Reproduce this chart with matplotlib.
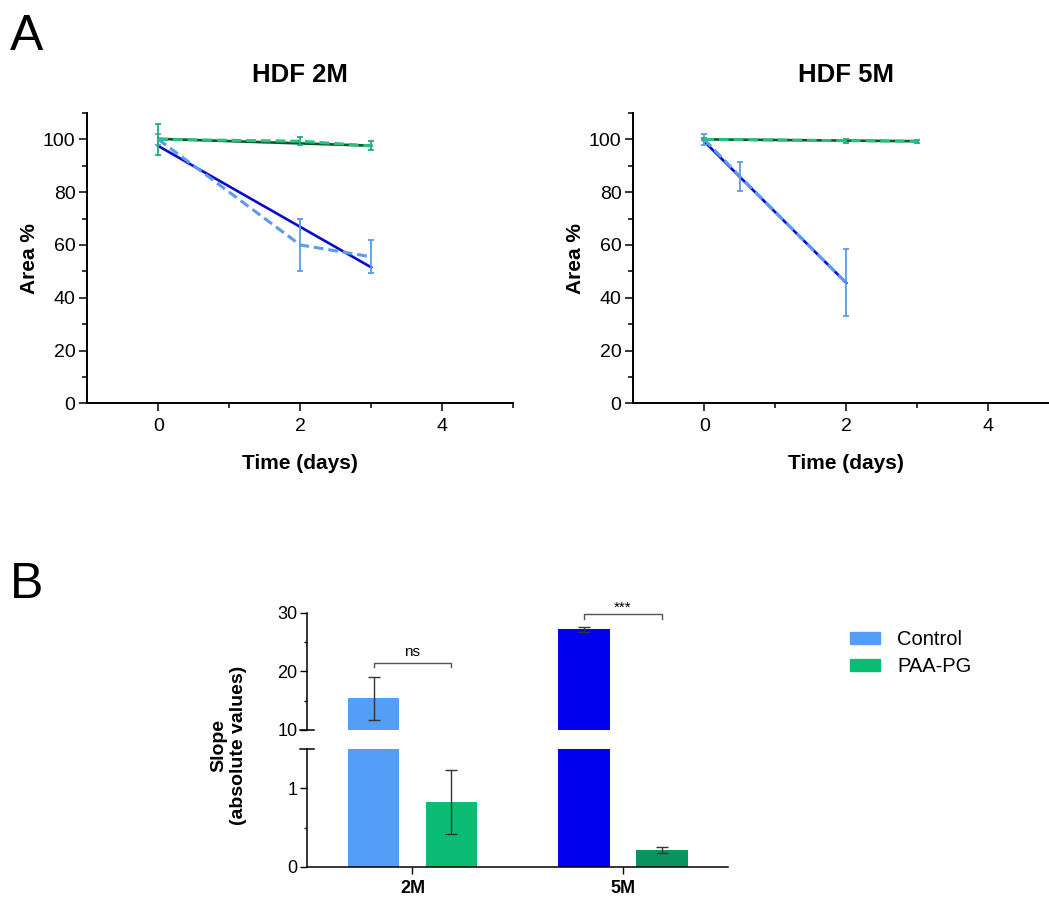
import numpy as np
import matplotlib
matplotlib.use('Agg')
import matplotlib.pyplot as plt
from matplotlib.patches import Patch

plt.rcParams['font.family'] = ['Liberation Sans', 'DejaVu Sans']

# ---- datos panel A (area % vs tiempo) ----
t_2m_ctrl = [0, 2, 3]
area_2m_ctrl = [100, 60.0, 55.5]
err_2m_ctrl = [2.2, 10.0, 6.3]
fit_2m_ctrl_x = [0, 3]
fit_2m_ctrl_y = [97.5, 51.5]

t_2m_paa = [0, 2, 3]
area_2m_paa = [100, 99.3, 97.5]
err_2m_paa = [6.0, 1.5, 1.7]
fit_2m_paa_x = [0, 3]
fit_2m_paa_y = [100.2, 97.6]

t_5m_ctrl = [0, 0.5, 2]
area_5m_ctrl = [100, 86.0, 45.6]
err_5m_ctrl = [2.1, 5.4, 12.7]
fit_5m_ctrl_x = [0, 2]
fit_5m_ctrl_y = [99.2, 45.6]

t_5m_paa = [0, 2, 3]
area_5m_paa = [100, 99.5, 99.3]
err_5m_paa = [0.4, 0.8, 0.5]
fit_5m_paa_x = [0, 3]
fit_5m_paa_y = [100.0, 99.3]

# ---- datos panel B (pendientes) ----
groups = ['2M', '5M']
slope_ctrl = [15.4, 27.15]
slope_ctrl_err = [3.7, 0.37]
slope_paa = [0.83, 0.21]
slope_paa_err = [0.41, 0.04]
sig_labels = ['ns', '***']

light_blue = '#5b9be8'
dark_blue = '#0a0acf'
light_green = '#25c285'
dark_green = '#0b5a1c'

fig = plt.figure(figsize=(10.49, 8.98), dpi=100)


def panel_a(ax, title, series):
    for tx, ty, te, fx, fy, lc, fc, ec in series:
        ax.plot(fx, fy, color=fc, lw=1.9, zorder=2)
        ax.errorbar(tx, ty, yerr=te, color=lc, lw=2.2, ls=(0, (3.2, 1.6)),
                    ecolor=ec, elinewidth=1.3, capsize=2.3, capthick=1.3, zorder=3)
    ax.set_xlim(-1, 5)
    ax.set_ylim(0, 110)
    ax.set_xticks([0, 2, 4])
    ax.set_xticks([1, 3, 5], minor=True)
    ax.set_yticks(np.arange(0, 101, 20))
    ax.set_yticks(np.arange(10, 111, 20), minor=True)
    for s in ['top', 'right']:
        ax.spines[s].set_visible(False)
    for s in ['left', 'bottom']:
        ax.spines[s].set_linewidth(1.4)
    ax.tick_params(which='major', length=6, width=1.1, labelsize=14, pad=2.5)
    ax.tick_params(which='minor', length=3.5, width=1.1)
    ax.tick_params(axis='x', which='major', pad=4.5)
    ax.set_title(title, fontsize=18.5, fontweight='bold', pad=22)
    ax.set_xlabel('Time (days)', fontsize=15, fontweight='bold')
    ax.set_ylabel('Area %', fontsize=15, fontweight='bold')
    ax.xaxis.set_label_coords(0.5, -0.175)
    ax.yaxis.set_label_coords(-0.113, 0.5)


ax1 = fig.add_axes([0.0832, 0.5509, 0.4061, 0.3233])
panel_a(ax1, 'HDF 2M', [
    (t_2m_ctrl, area_2m_ctrl, err_2m_ctrl, fit_2m_ctrl_x, fit_2m_ctrl_y, light_blue, dark_blue, light_blue),
    (t_2m_paa, area_2m_paa, err_2m_paa, fit_2m_paa_x, fit_2m_paa_y, light_green, dark_green, '#1fae78'),
])

ax2 = fig.add_axes([0.6037, 0.5509, 0.4061, 0.3233])
panel_a(ax2, 'HDF 5M', [
    (t_5m_ctrl, area_5m_ctrl, err_5m_ctrl, fit_5m_ctrl_x, fit_5m_ctrl_y, light_blue, dark_blue, light_blue),
    (t_5m_paa, area_5m_paa, err_5m_paa, fit_5m_paa_x, fit_5m_paa_y, light_green, dark_green, '#1fae78'),
])

# ---- panel B con eje y cortado ----
axu = fig.add_axes([0.2929, 0.1871, 0.4013, 0.1306])
axl = fig.add_axes([0.2929, 0.0349, 0.4013, 0.1307])

x = np.arange(len(groups))
w = 0.246
off = 0.185
ctrl_colors = ['#559ef7', '#0000ee']
paa_colors = ['#0dbc74', '#0c9460']

for ax in (axu, axl):
    ax.bar(x - off, slope_ctrl, w, color=ctrl_colors, zorder=2)
    ax.bar(x + off, slope_paa, w, color=paa_colors, zorder=2)
    ax.errorbar(x - off, slope_ctrl, yerr=slope_ctrl_err, fmt='none', ecolor='#333333',
                elinewidth=1.0, capsize=4.3, capthick=1.0, zorder=3)
    ax.errorbar(x + off, slope_paa, yerr=slope_paa_err, fmt='none', ecolor='#333333',
                elinewidth=1.0, capsize=4.3, capthick=1.0, zorder=3)
    ax.set_xlim(-0.5, 1.5)
    ax.spines['top'].set_visible(False)
    ax.spines['right'].set_visible(False)
    ax.spines['left'].set_linewidth(1.1)
    ax.spines['bottom'].set_linewidth(1.1)
    ax.tick_params(which='major', length=5, width=1.0, labelsize=13, pad=2)
    ax.tick_params(which='minor', length=2.5, width=1.0)

axu.set_ylim(10, 30)
axu.set_yticks([10, 20, 30])
axu.set_yticks([15, 25], minor=True)
axu.spines['bottom'].set_visible(False)
axu.set_xticks([])

axl.set_ylim(0, 1.5)
axl.set_yticks([0, 1])
axl.set_yticks([0.5], minor=True)
axl.set_xticks(x)
axl.set_xticklabels(groups, fontweight='bold')
axl.tick_params(axis='x', which='major', pad=4.5)

# marcas del corte
d = 0.0166
axu.plot([-d, d], [0, 0], transform=axu.transAxes, color='black', lw=1.1, clip_on=False)
axl.plot([-d, d], [1, 1], transform=axl.transAxes, color='black', lw=1.1, clip_on=False)

# corchetes de significancia
brackets = [(0, 21.5, 20.7, 22.7), (1, 29.8, 28.9, 30.1)]
for (gi, yb, yl, yt), lab in zip(brackets, sig_labels):
    x1, x2 = gi - off, gi + off
    axu.plot([x1, x1, x2, x2], [yl, yb, yb, yl], color='#555555', lw=1.0, clip_on=False)
    axu.text(gi, yt, lab, ha='center', va='baseline', fontsize=11, clip_on=False)

fig.text(228.4 / 1049, 1 - 745 / 898, 'Slope\n(absolute values)', rotation=90,
         ha='center', va='center', multialignment='center', fontsize=14, fontweight='bold')

fig.legend(handles=[Patch(color='#559ef7', label='Control'),
                    Patch(color='#0dbc74', label='PAA-PG')],
           loc='upper left', bbox_to_anchor=(850 / 1049, 1 - 630 / 898), frameon=False,
           fontsize=14.5, handlelength=1.5, handleheight=0.6, handletextpad=0.85,
           labelspacing=0.4, borderpad=0, borderaxespad=0)

fig.text(0.0095, 1 - 50 / 898, 'A', fontsize=36, va='baseline')
fig.text(0.0095, 1 - 598 / 898, 'B', fontsize=36, va='baseline')

fig.savefig('out.png', dpi=100)
